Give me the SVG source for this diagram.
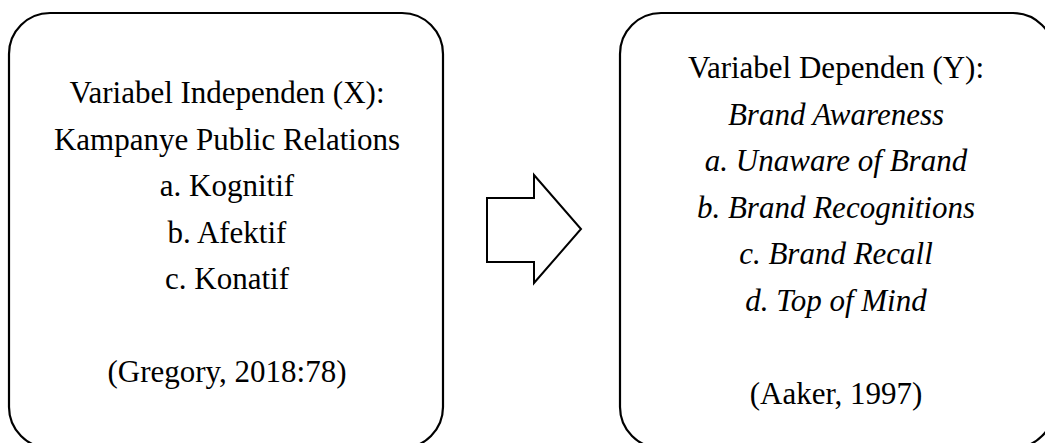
<svg xmlns="http://www.w3.org/2000/svg" width="1045" height="443" viewBox="0 0 1045 443">
<style>
.box{fill:#fff;stroke:#000;stroke-width:2.2}
.t{font-family:"Liberation Serif","Times New Roman",serif;font-size:31px;fill:#000;text-anchor:middle}
.i{font-style:italic}
.arrow{fill:#fff;stroke:#000;stroke-width:2;stroke-linejoin:miter}
</style>
<rect width="1045" height="443" fill="#fff"/>
<g id="node-x">
<rect class="box" x="9" y="13" width="434" height="435" rx="41" ry="41"/>
<text class="t" x="227" y="103">Variabel Independen (X):</text>
<text class="t" x="227" y="149.5">Kampanye Public Relations</text>
<text class="t" x="227" y="196">a. Kognitif</text>
<text class="t" x="227" y="242.5">b. Afektif</text>
<text class="t" x="227" y="289">c. Konatif</text>
<text class="t" x="227" y="382">(Gregory, 2018:78)</text>
</g>
<g id="connectors">
<polygon class="arrow" points="487,198 534,198 534,175 581,229 534,283 534,262 487,262"/>
</g>
<g id="node-y">
<rect class="box" x="620" y="13" width="434" height="435" rx="41" ry="41"/>
<text class="t" x="836" y="78">Variabel Dependen (Y):</text>
<text class="t i" x="836" y="124.5">Brand Awareness</text>
<text class="t i" x="836" y="171">a. Unaware of Brand</text>
<text class="t i" x="836" y="217.5">b. Brand Recognitions</text>
<text class="t i" x="836" y="264">c. Brand Recall</text>
<text class="t i" x="836" y="310.5">d. Top of Mind</text>
<text class="t" x="836" y="403.5">(Aaker, 1997)</text>
</g>
</svg>
